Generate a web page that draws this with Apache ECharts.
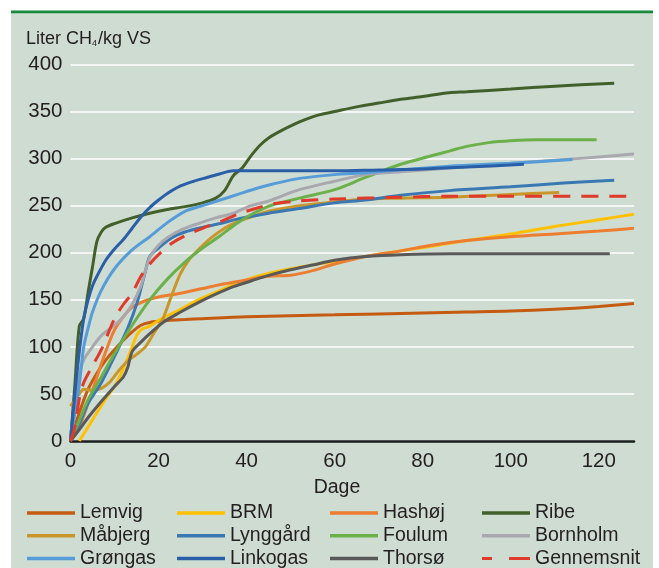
<!DOCTYPE html>
<html>
<head>
<meta charset="utf-8">
<script src="https://cdn.jsdelivr.net/npm/echarts@6/dist/echarts.min.js"></script>
<style>
html,body{margin:0;padding:0;background:#fff;}
#c{width:659px;height:568px;}
</style>
</head>
<body>
<div id="c"></div>
<script>
// Data: [day, Liter CH4/kg VS]
const seriesNames = ['Lemvig','BRM','Hashøj','Ribe','Måbjerg','Lynggård','Foulum','Bornholm','Grøngas','Linkogas','Thorsø','Gennemsnit'];
const xTicks = [0,20,40,60,80,100,120];
const yTicks = [0,50,100,150,200,250,300,350,400];

const lemvig = [[0,0],[2,30],[4,55],[6,72],[8,86],[10,97],[12,107],[14,116],[16,123],[18,126],[22,128],[26,129],[30,130],[40,132],[60,134],[80,136],[90,137],[100,138],[110,140],[120,143],[128,146]];
const brm = [[2,0],[4,15],[6,30],[8,45],[10,58],[12,77],[14,100],[15,112],[16,118],[18,122],[20,128],[22,133],[25,140],[29,150],[33,158],[37,166],[41,173],[45,178],[50,183],[55,187],[60,191],[67,196],[75,202],[82,207],[90,213],[100,220],[110,228],[120,235],[128,241]];
const hashoj = [[0,0],[2,15],[4,40],[6,68],[8,95],[10,118],[12,132],[14,142],[17,149],[20,153],[25,157],[30,162],[35,167],[40,171],[45,175],[50,176],[55,181],[60,188],[67,196],[75,202],[82,208],[90,213],[100,217],[110,220],[120,223],[128,226]];
const ribe = [[0,0],[1,60],[2,122],[3,130],[4,158],[5,185],[6,212],[7,222],[8,227],[10,231],[14,237],[18,242],[22,246],[26,249],[30,253],[33,258],[35,266],[37,282],[39,290],[41,303],[43,314],[45,322],[48,330],[52,339],[56,346],[60,350],[65,355],[70,359],[75,363],[80,366],[86,370],[90,371],[100,374],[110,377],[123.5,380]];
const mabjerg = [[0,37],[2,50],[3,55],[5,54],[7,56],[9,63],[11,75],[13,85],[15,92],[17,100],[19,115],[21,130],[23,155],[25,178],[27,193],[29,203],[32,216],[35,226],[38,233],[41,238],[45,244],[52,250],[60,254],[67,257],[75,258],[86,259],[100,262],[111,264]];
const lyngaard = [[0,0],[2,18],[4,40],[7,62],[10,90],[13,120],[15,145],[17,180],[18,196],[20,205],[23,216],[26,222],[30,227],[34,231],[38,236],[45,242],[52,247],[60,253],[67,256],[75,261],[86,266],[100,270],[112,274],[123.5,277]];
const foulum = [[0,0],[2,22],[4,44],[7,68],[10,93],[14,123],[18,150],[22,172],[26,190],[30,205],[34,218],[38,232],[42,243],[46,251],[52,258],[60,267],[67,280],[75,294],[82,303],[86,308],[90,313],[95,317],[100,319],[106,320],[119.5,320]];
const bornholm = [[0,0],[1,40],[2,70],[3,86],[5,100],[7,112],[10,123],[12,132],[14,145],[16,165],[18,195],[20,208],[22,216],[25,224],[29,231],[33,237],[37,242],[41,250],[45,255],[52,267],[60,276],[67,283],[75,286],[86,290],[100,295],[115,300],[128,305]];
const grongas = [[0,0],[1,30],[2,60],[3,100],[4,120],[5,137],[7,160],[10,183],[14,203],[18,217],[22,232],[26,244],[30,250],[34,256],[38,262],[42,268],[46,273],[52,279],[60,283],[67,285],[75,288],[86,292],[100,295],[114,299]];
const linkogas = [[0,0],[1,50],[2,95],[3,130],[4,150],[5,165],[6,175],[8,192],[10,204],[12,214],[14,226],[16,238],[18,248],[20,256],[22,263],[25,271],[28,276],[31,280],[34,284],[37,287],[40,287],[50,287],[60,287],[70,288],[80,289],[90,291],[103,294]];
const thorso = [[0,0],[2,12],[4,25],[7,42],[10,58],[12,68],[13,78],[14,95],[16,105],[18,114],[21,126],[25,137],[29,147],[33,156],[37,164],[41,170],[45,176],[50,182],[55,187],[60,192],[67,196],[75,198],[86,199],[100,199],[122.5,199]];
const gennemsnit = [[0,0],[1,15],[2,45],[3,62],[5,80],[7,97],[10,130],[12,145],[14,157],[16,175],[18,188],[20,198],[23,210],[26,218],[30,226],[34,233],[38,241],[42,247],[46,252],[52,255],[60,257],[75,259],[86,260],[100,260],[128,260]];

const allData = [lemvig, brm, hashoj, ribe, mabjerg, lyngaard, foulum, bornholm, grongas, linkogas, thorso, gennemsnit];
const colors = ['#C55A11','#FFC000','#ED7D31','#43602A','#C9962A','#3A78B4','#6CB04A','#A8A8AE','#559CD8','#2A5FA8','#595959','#E03A2A'];

const FONT = '"Liberation Sans", Arial, sans-serif';
const chart = echarts.init(document.getElementById('c'), null, {renderer:'canvas'});

const series = seriesNames.map((n, i) => ({
  name: n,
  type: 'line',
  data: allData[i],
  smooth: 0.3,
  symbol: 'none',
  showSymbol: false,
  clip: true,
  lineStyle: {
    color: colors[i],
    width: 3,
    type: n === 'Gennemsnit' ? [17, 11] : 'solid'
  },
  itemStyle: {color: colors[i]},
  emphasis: {disabled: true},
  animation: false
}));

const legendCols = [
  {left: 27, names: ['Lemvig','Måbjerg','Grøngas']},
  {left: 177, names: ['BRM','Lynggård','Linkogas']},
  {left: 330, names: ['Hashøj','Foulum','Thorsø']},
  {left: 482, names: ['Ribe','Bornholm','Gennemsnit']}
];
const dashIcon = 'path://M0,0H10V3H0Z M27,0H48V3H27Z';

const option = {
  backgroundColor: '#ffffff',
  animation: false,
  graphic: [
    {type:'rect', shape:{x:11, y:12, width:642, height:556}, style:{fill:'#cfdcd2'}, z:-10, silent:true},
    {type:'rect', shape:{x:11, y:10.5, width:642, height:2.8}, style:{fill:'#178a3e'}, z:-9, silent:true},
    {type:'text', x:337, y:488, style:{text:'Dage', fill:'#231f20', font:'19.5px ' + FONT, textAlign:'center', textVerticalAlign:'middle'}, silent:true}
  ],
  title: {
    left: 26, top: 30.5, padding: 0,
    text: 'Liter CH{sub|4}/kg VS',
    textStyle: {
      fontFamily: FONT, fontSize: 18, fontWeight: 'normal', color: '#231f20', lineHeight: 18,
      rich: {sub: {fontFamily: FONT, fontSize: 9, color:'#231f20', verticalAlign:'bottom', lineHeight: 9, padding:[10,1,0,0]}}
    }
  },
  grid: {left: 70.5, right: 25, top: 64.5, bottom: 127, containLabel: false},
  xAxis: {
    type: 'value', min: 0, max: 128, interval: 20,
    axisLine: {show: true, onZero: false, lineStyle: {color: '#1a1a1a', width: 2.5}},
    axisTick: {show: false},
    splitLine: {show: false},
    axisLabel: {
      color: '#231f20', fontFamily: FONT, fontSize: 20.5, margin: 10,
      showMaxLabel: false,
      formatter: v => xTicks.indexOf(v) >= 0 ? String(v) : ''
    }
  },
  yAxis: {
    type: 'value', min: 0, max: 400, interval: 50,
    axisLine: {show: false},
    axisTick: {show: false},
    splitLine: {show: true, lineStyle: {color: '#ffffff', width: 1.6}},
    axisLabel: {
      color: '#231f20', fontFamily: FONT, fontSize: 20.5, margin: 8,
      formatter: v => yTicks.indexOf(v) >= 0 ? String(v) : ''
    }
  },
  legend: legendCols.map(c => ({
    orient: 'vertical',
    left: c.left, top: 501.7,
    width: 160, height: 100,
    padding: 0,
    itemWidth: 48, itemHeight: 3.5, itemGap: 0,
    icon: 'rect',
    data: c.names.map(n => n === 'Gennemsnit' ? {name: n, icon: dashIcon} : {name: n}),
    selectedMode: false,
    textStyle: {fontFamily: FONT, fontSize: 19.5, color: '#231f20', lineHeight: 22.7, padding: [0,0,0,0]}
  })),
  series: series
};
chart.setOption(option);
</script>
</body>
</html>
